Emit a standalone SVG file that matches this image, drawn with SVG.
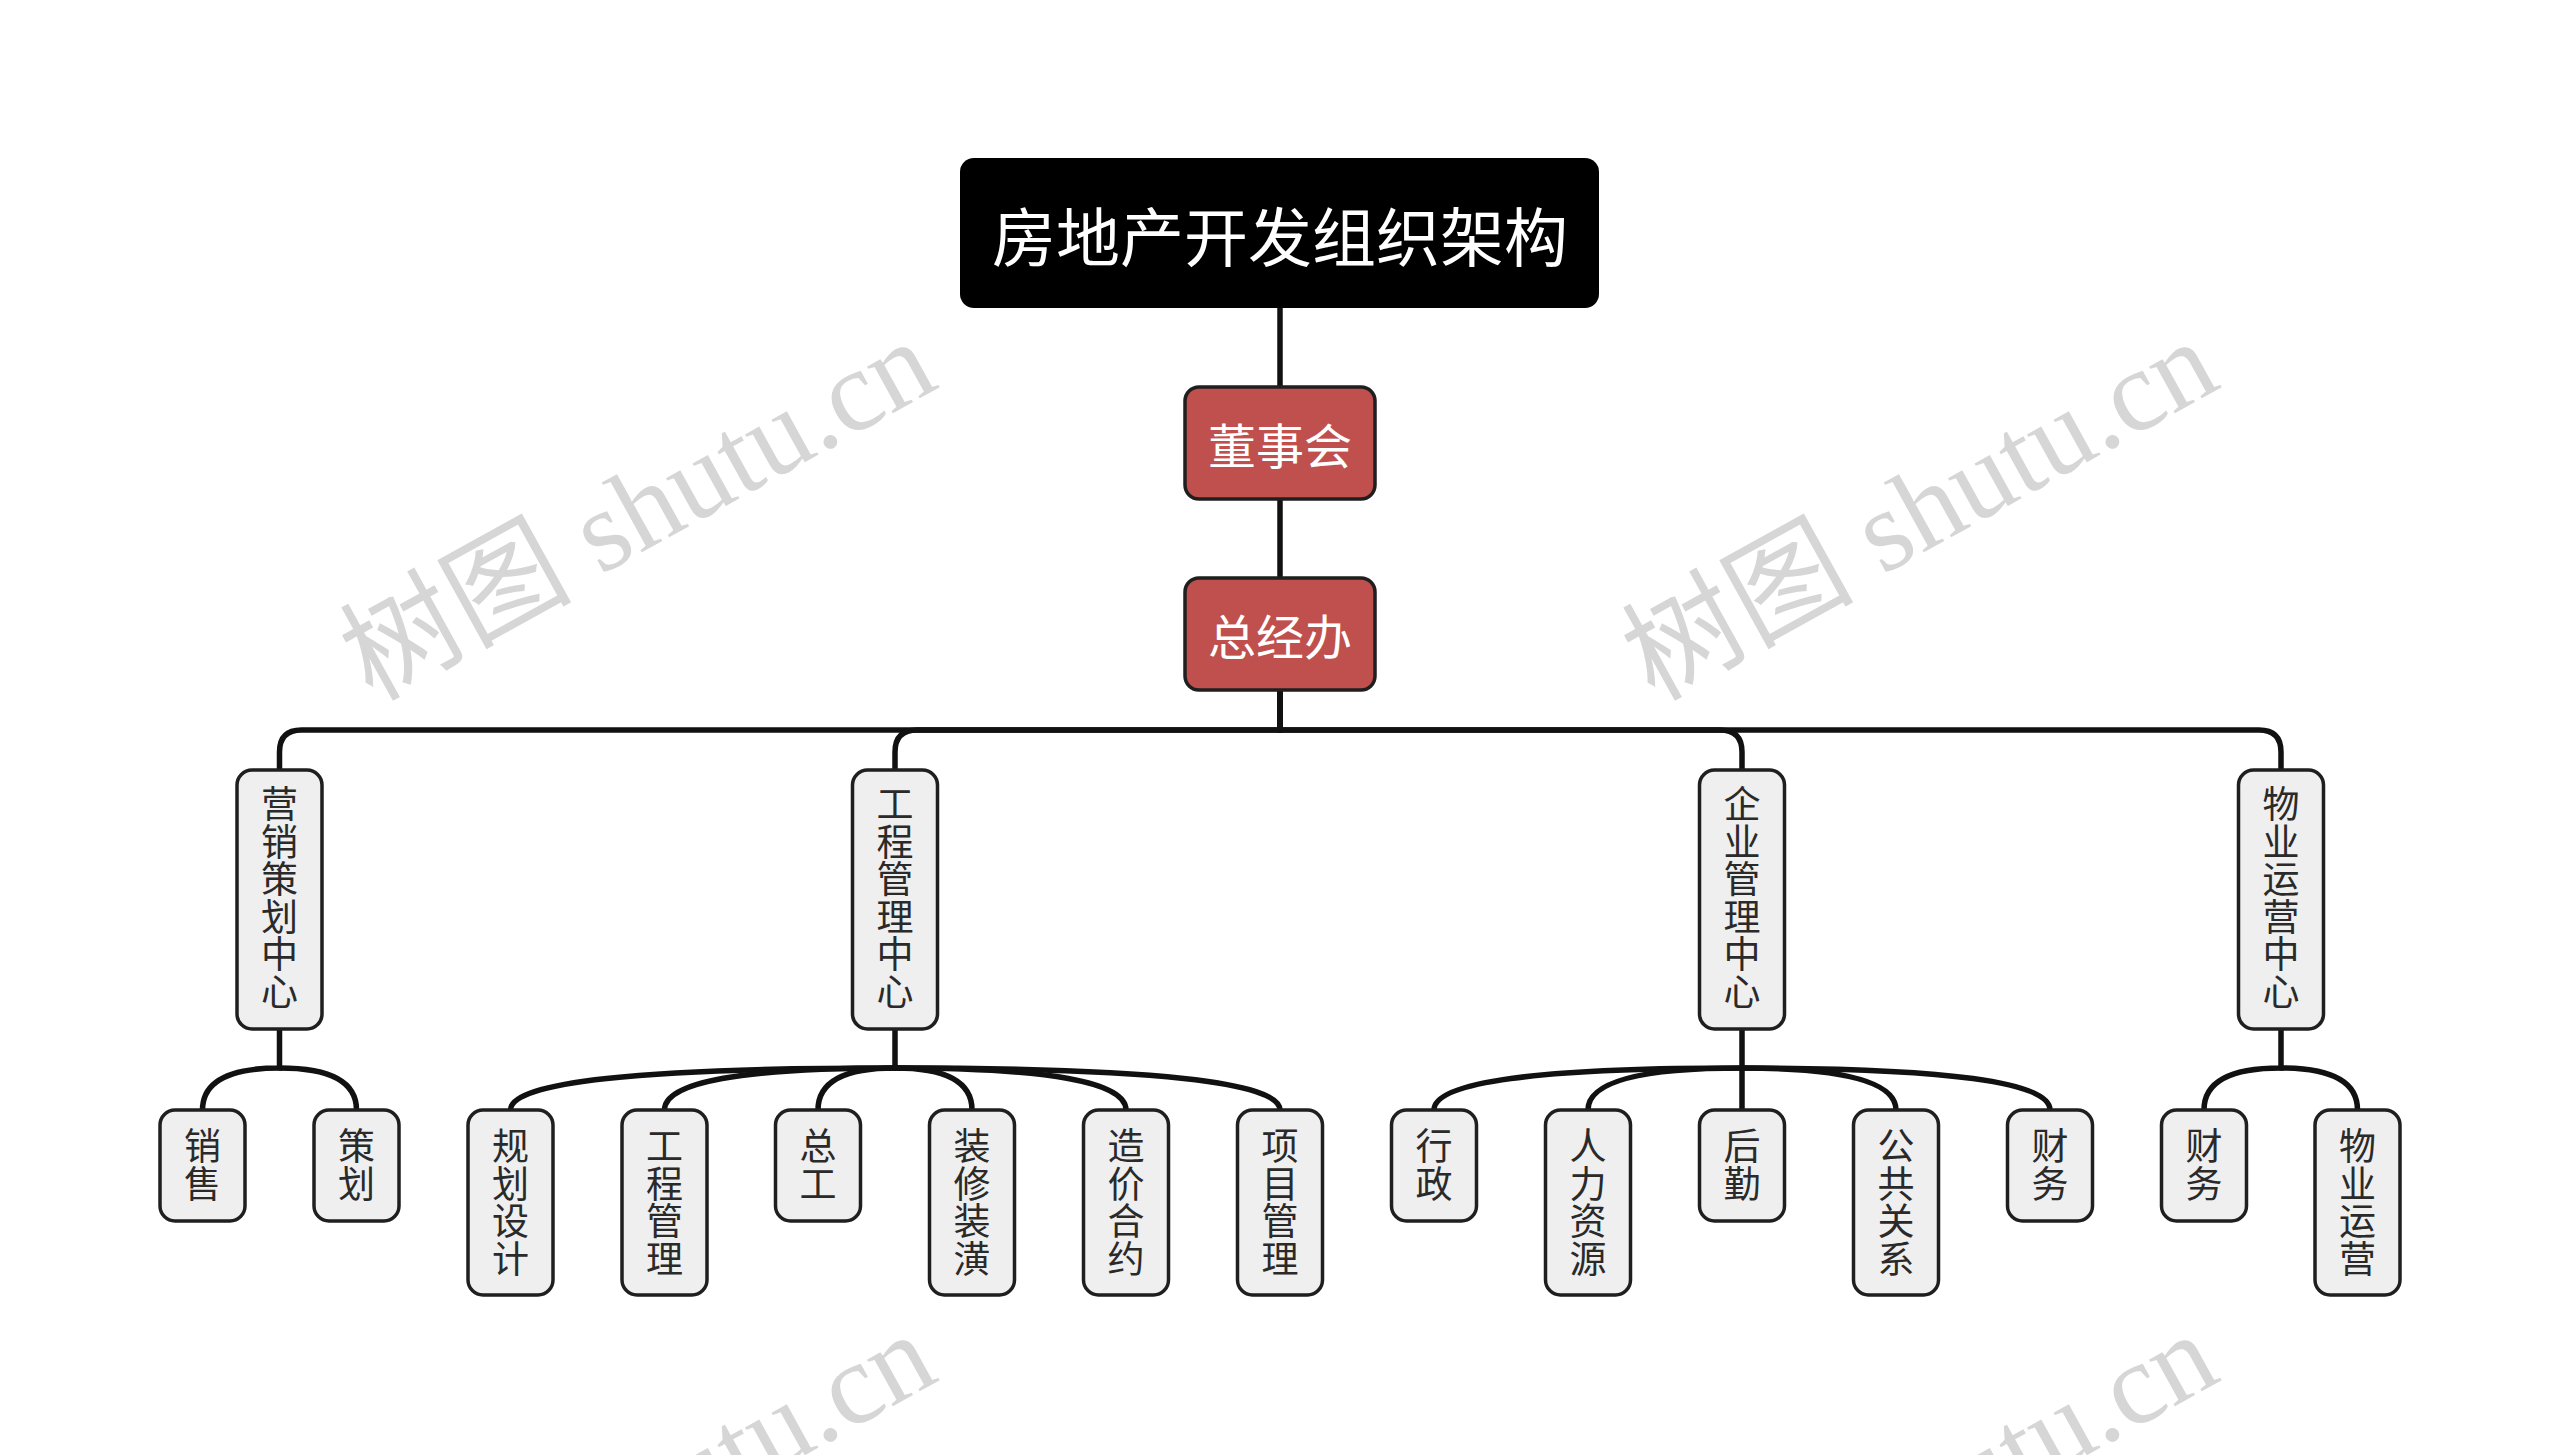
<svg xmlns="http://www.w3.org/2000/svg" width="2560" height="1455" viewBox="0 0 2560 1455">
<style>
.wm{font-family:"Liberation Serif","Noto Sans CJK SC",serif;font-size:116px;fill:#d6d6d6}
.conn{fill:none;stroke:#111;stroke-width:5.5;stroke-linecap:round}
.root rect{fill:#000}
.root text{font-family:"Noto Sans CJK SC","Noto Sans",sans-serif;font-size:64px;fill:#fff;text-anchor:middle;dominant-baseline:central}
.red rect{fill:#c0504d;stroke:#1f1f1f;stroke-width:3.5}
.red text{font-family:"Noto Sans CJK SC","Noto Sans",sans-serif;font-size:48px;fill:#fff;text-anchor:middle;dominant-baseline:central}
.gray rect{fill:#efefef;stroke:#1f1f1f;stroke-width:3.5}
.gray text{font-family:"Noto Sans CJK SC","Noto Sans",sans-serif;font-size:37px;fill:#2a2a2a;text-anchor:middle;dominant-baseline:central}
</style>
<rect width="2560" height="1455" fill="#fff"/>
<g id="watermarks">
<text class="wm" x="372" y="702" transform="rotate(-29 372 702)">树图 shutu.cn</text>
<text class="wm" x="1654" y="702" transform="rotate(-29 1654 702)">树图 shutu.cn</text>
<text class="wm" x="372" y="1695" transform="rotate(-29 372 1695)">树图 shutu.cn</text>
<text class="wm" x="1654" y="1695" transform="rotate(-29 1654 1695)">树图 shutu.cn</text>
</g>
<g id="connectors" class="conn">
<path d="M1280 308V387"/>
<path d="M1280 499V578"/>
<path d="M1280 690V730H301.5Q279.5 730 279.5 752V770"/>
<path d="M1280 690V730H917Q895 730 895 752V770"/>
<path d="M1280 690V730H1720Q1742 730 1742 752V770"/>
<path d="M1280 690V730H2259Q2281 730 2281 752V770"/>
<path d="M279.5 1029V1068Q202.5 1068 202.5 1110"/>
<path d="M279.5 1068Q356.5 1068 356.5 1110"/>
<path d="M895 1029V1068Q510.5 1068 510.5 1110"/>
<path d="M895 1068Q664.5 1068 664.5 1110"/>
<path d="M895 1068Q818 1068 818 1110"/>
<path d="M895 1068Q972 1068 972 1110"/>
<path d="M895 1068Q1126 1068 1126 1110"/>
<path d="M895 1068Q1280 1068 1280 1110"/>
<path d="M1742 1029V1068Q1434 1068 1434 1110"/>
<path d="M1742 1068Q1588 1068 1588 1110"/>
<path d="M1742 1068V1110"/>
<path d="M1742 1068Q1896 1068 1896 1110"/>
<path d="M1742 1068Q2050 1068 2050 1110"/>
<path d="M2281 1029V1068Q2204 1068 2204 1110"/>
<path d="M2281 1068Q2357.5 1068 2357.5 1110"/>
</g>
<g id="root" class="root"><rect x="960" y="158" width="639" height="150" rx="14"/><text x="1280" y="233">房地产开发组织架构</text></g>
<g id="n-dongshihui" class="red"><rect x="1185" y="387" width="190" height="112" rx="14"/><text x="1280" y="443">董事会</text></g>
<g id="n-zongjingban" class="red"><rect x="1185" y="578" width="190" height="112" rx="14"/><text x="1280" y="634">总经办</text></g>
<g id="n-yingxiao" class="gray"><rect x="237" y="770" width="85" height="259" rx="15"/><text><tspan x="279.5" y="802.3">营</tspan><tspan x="279.5" y="839.8">销</tspan><tspan x="279.5" y="877.3">策</tspan><tspan x="279.5" y="914.8">划</tspan><tspan x="279.5" y="952.3">中</tspan><tspan x="279.5" y="989.8">心</tspan></text></g>
<g id="n-gongcheng" class="gray"><rect x="852.5" y="770" width="85" height="259" rx="15"/><text><tspan x="895" y="802.3">工</tspan><tspan x="895" y="839.8">程</tspan><tspan x="895" y="877.3">管</tspan><tspan x="895" y="914.8">理</tspan><tspan x="895" y="952.3">中</tspan><tspan x="895" y="989.8">心</tspan></text></g>
<g id="n-qiye" class="gray"><rect x="1699.5" y="770" width="85" height="259" rx="15"/><text><tspan x="1742" y="802.3">企</tspan><tspan x="1742" y="839.8">业</tspan><tspan x="1742" y="877.3">管</tspan><tspan x="1742" y="914.8">理</tspan><tspan x="1742" y="952.3">中</tspan><tspan x="1742" y="989.8">心</tspan></text></g>
<g id="n-wuye" class="gray"><rect x="2238.5" y="770" width="85" height="259" rx="15"/><text><tspan x="2281" y="802.3">物</tspan><tspan x="2281" y="839.8">业</tspan><tspan x="2281" y="877.3">运</tspan><tspan x="2281" y="914.8">营</tspan><tspan x="2281" y="952.3">中</tspan><tspan x="2281" y="989.8">心</tspan></text></g>
<g id="n-xiaoshou" class="gray"><rect x="160" y="1110" width="85" height="111" rx="15"/><text><tspan x="202.5" y="1144.2">销</tspan><tspan x="202.5" y="1181.7">售</tspan></text></g>
<g id="n-cehua" class="gray"><rect x="314" y="1110" width="85" height="111" rx="15"/><text><tspan x="356.5" y="1144.2">策</tspan><tspan x="356.5" y="1181.7">划</tspan></text></g>
<g id="n-guihua" class="gray"><rect x="468" y="1110" width="85" height="185" rx="15"/><text><tspan x="510.5" y="1144.2">规</tspan><tspan x="510.5" y="1181.7">划</tspan><tspan x="510.5" y="1219.2">设</tspan><tspan x="510.5" y="1256.7">计</tspan></text></g>
<g id="n-gcgl" class="gray"><rect x="622" y="1110" width="85" height="185" rx="15"/><text><tspan x="664.5" y="1144.2">工</tspan><tspan x="664.5" y="1181.7">程</tspan><tspan x="664.5" y="1219.2">管</tspan><tspan x="664.5" y="1256.7">理</tspan></text></g>
<g id="n-zonggong" class="gray"><rect x="775.5" y="1110" width="85" height="111" rx="15"/><text><tspan x="818" y="1144.2">总</tspan><tspan x="818" y="1181.7">工</tspan></text></g>
<g id="n-zhuangxiu" class="gray"><rect x="929.5" y="1110" width="85" height="185" rx="15"/><text><tspan x="972" y="1144.2">装</tspan><tspan x="972" y="1181.7">修</tspan><tspan x="972" y="1219.2">装</tspan><tspan x="972" y="1256.7">潢</tspan></text></g>
<g id="n-zaojia" class="gray"><rect x="1083.5" y="1110" width="85" height="185" rx="15"/><text><tspan x="1126" y="1144.2">造</tspan><tspan x="1126" y="1181.7">价</tspan><tspan x="1126" y="1219.2">合</tspan><tspan x="1126" y="1256.7">约</tspan></text></g>
<g id="n-xiangmu" class="gray"><rect x="1237.5" y="1110" width="85" height="185" rx="15"/><text><tspan x="1280" y="1144.2">项</tspan><tspan x="1280" y="1181.7">目</tspan><tspan x="1280" y="1219.2">管</tspan><tspan x="1280" y="1256.7">理</tspan></text></g>
<g id="n-xingzheng" class="gray"><rect x="1391.5" y="1110" width="85" height="111" rx="15"/><text><tspan x="1434" y="1144.2">行</tspan><tspan x="1434" y="1181.7">政</tspan></text></g>
<g id="n-renli" class="gray"><rect x="1545.5" y="1110" width="85" height="185" rx="15"/><text><tspan x="1588" y="1144.2">人</tspan><tspan x="1588" y="1181.7">力</tspan><tspan x="1588" y="1219.2">资</tspan><tspan x="1588" y="1256.7">源</tspan></text></g>
<g id="n-houqin" class="gray"><rect x="1699.5" y="1110" width="85" height="111" rx="15"/><text><tspan x="1742" y="1144.2">后</tspan><tspan x="1742" y="1181.7">勤</tspan></text></g>
<g id="n-gonggong" class="gray"><rect x="1853.5" y="1110" width="85" height="185" rx="15"/><text><tspan x="1896" y="1144.2">公</tspan><tspan x="1896" y="1181.7">共</tspan><tspan x="1896" y="1219.2">关</tspan><tspan x="1896" y="1256.7">系</tspan></text></g>
<g id="n-caiwu1" class="gray"><rect x="2007.5" y="1110" width="85" height="111" rx="15"/><text><tspan x="2050" y="1144.2">财</tspan><tspan x="2050" y="1181.7">务</tspan></text></g>
<g id="n-caiwu2" class="gray"><rect x="2161.5" y="1110" width="85" height="111" rx="15"/><text><tspan x="2204" y="1144.2">财</tspan><tspan x="2204" y="1181.7">务</tspan></text></g>
<g id="n-wuyeyunying" class="gray"><rect x="2315" y="1110" width="85" height="185" rx="15"/><text><tspan x="2357.5" y="1144.2">物</tspan><tspan x="2357.5" y="1181.7">业</tspan><tspan x="2357.5" y="1219.2">运</tspan><tspan x="2357.5" y="1256.7">营</tspan></text></g>
</svg>
